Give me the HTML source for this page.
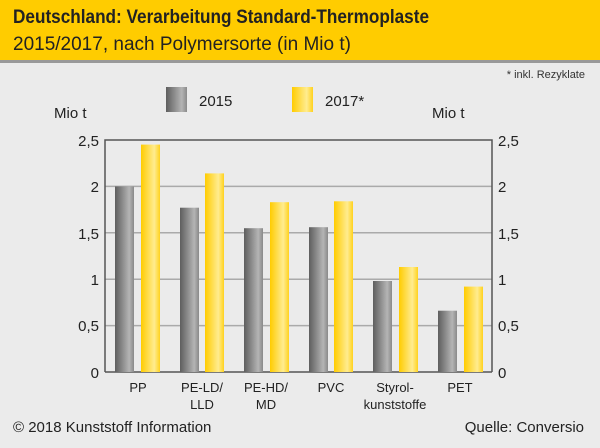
<!DOCTYPE html>
<html><head><meta charset="utf-8"><style>
body{margin:0;width:600px;height:443px;background:#ebebeb;font-family:"Liberation Sans",sans-serif;overflow:hidden}
</style></head><body>
<svg width="600" height="443" xmlns="http://www.w3.org/2000/svg">
<defs>
<linearGradient id="g" x1="0" x2="1"><stop offset="0" stop-color="#5e5e5e"/><stop offset="0.75" stop-color="#b4b4b4"/><stop offset="1" stop-color="#8a8a8a"/></linearGradient>
<linearGradient id="y" x1="0" x2="1"><stop offset="0" stop-color="#ffcc00"/><stop offset="0.7" stop-color="#ffec90"/><stop offset="1" stop-color="#ffd21e"/></linearGradient>
</defs>
<rect x="0" y="0" width="600" height="61" fill="#ffcc00"/>
<rect x="0" y="60" width="600" height="3" fill="#999"/>
<text x="13" y="23" font-size="19" font-weight="bold" fill="#222" textLength="416" lengthAdjust="spacingAndGlyphs">Deutschland: Verarbeitung Standard-Thermoplaste</text>
<text x="13" y="50" font-size="19" fill="#222">2015/2017, nach Polymersorte (in Mio t)</text>
<text x="585" y="78" font-size="11" fill="#333" text-anchor="end">* inkl. Rezyklate</text>
<rect x="166" y="87" width="21" height="25" fill="url(#g)"/>
<text x="199" y="106" font-size="15" fill="#222">2015</text>
<rect x="292" y="87" width="21" height="25" fill="url(#y)"/>
<text x="325" y="106" font-size="15" fill="#222">2017*</text>
<text x="54" y="118" font-size="15" fill="#222">Mio t</text>
<text x="432" y="118" font-size="15" fill="#222">Mio t</text>
<g stroke="#aaa" stroke-width="1.5">
<line x1="105" x2="492" y1="186.4" y2="186.4"/><line x1="105" x2="492" y1="232.8" y2="232.8"/>
<line x1="105" x2="492" y1="279.2" y2="279.2"/><line x1="105" x2="492" y1="325.6" y2="325.6"/>
</g>
<g stroke="#555" stroke-width="1.5" fill="none">
<path d="M105 372V140H492V372"/><line x1="105" x2="492" y1="372" y2="372"/>
</g>
<g font-size="15" fill="#222">
<g text-anchor="end"><text x="99" y="146">2,5</text><text x="99" y="192">2</text><text x="99" y="239">1,5</text><text x="99" y="285">1</text><text x="99" y="331">0,5</text><text x="99" y="378">0</text></g>
<text x="498" y="146">2,5</text><text x="498" y="192">2</text><text x="498" y="239">1,5</text><text x="498" y="285">1</text><text x="498" y="331">0,5</text><text x="498" y="378">0</text>
</g>
<g>
<rect x="115" y="186.4" width="19" height="185.6" fill="url(#g)"/><rect x="141" y="144.6" width="19" height="227.4" fill="url(#y)"/>
<rect x="180" y="207.7" width="19" height="164.3" fill="url(#g)"/><rect x="205" y="173.4" width="19" height="198.6" fill="url(#y)"/>
<rect x="244" y="228.2" width="19" height="143.8" fill="url(#g)"/><rect x="270" y="202.2" width="19" height="169.8" fill="url(#y)"/>
<rect x="309" y="227.2" width="19" height="144.8" fill="url(#g)"/><rect x="334" y="201.3" width="19" height="170.7" fill="url(#y)"/>
<rect x="373" y="281" width="19" height="91" fill="url(#g)"/><rect x="399" y="267" width="19" height="105" fill="url(#y)"/>
<rect x="438" y="310.7" width="19" height="61.3" fill="url(#g)"/><rect x="464" y="286.6" width="19" height="85.4" fill="url(#y)"/>
</g>
<g font-size="13" fill="#222" text-anchor="middle">
<text x="138" y="392">PP</text>
<text x="202" y="392">PE-LD/</text><text x="202" y="409">LLD</text>
<text x="266" y="392">PE-HD/</text><text x="266" y="409">MD</text>
<text x="331" y="392">PVC</text>
<text x="395" y="392">Styrol-</text><text x="395" y="409">kunststoffe</text>
<text x="460" y="392">PET</text>
</g>
<text x="13" y="432" font-size="15" fill="#222">© 2018 Kunststoff Information</text>
<text x="584" y="432" font-size="15" fill="#222" text-anchor="end">Quelle: Conversio</text>
</svg>
</body></html>
